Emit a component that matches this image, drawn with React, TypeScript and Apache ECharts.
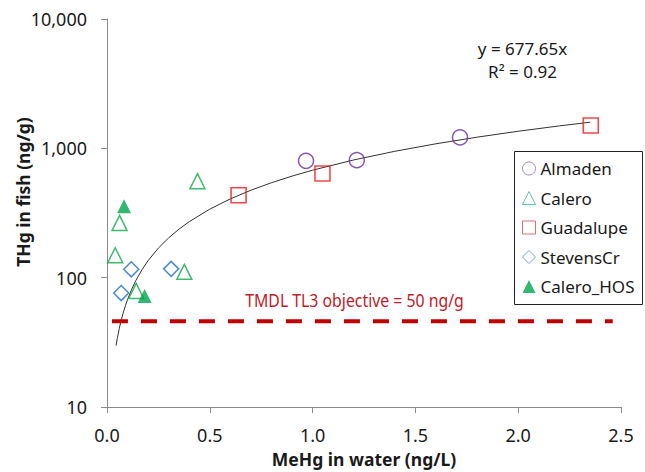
import React, { useEffect, useRef } from "react";
import * as echarts from "echarts";

// Data
const almaden: [number, number][] = [
  [0.968, 800],
  [1.215, 810],
  [1.717, 1214],
];
const calero: [number, number][] = [
  [0.44, 557],
  [0.061, 265],
  [0.04, 149],
  [0.376, 111],
  [0.142, 79],
];
const guadalupe: [number, number][] = [
  [0.64, 434],
  [1.048, 639],
  [2.353, 1503],
];
const stevensCr: [number, number][] = [
  [0.118, 116],
  [0.069, 76],
  [0.312, 117],
];
const caleroHOS: [number, number][] = [
  [0.083, 357],
  [0.183, 72],
];

const TREND_SLOPE = 677.65;
const trendX = [
  0.044, 0.05, 0.06, 0.07, 0.08, 0.09, 0.1, 0.12, 0.14, 0.17, 0.2, 0.25, 0.3,
  0.35, 0.4, 0.5, 0.6, 0.7, 0.8, 0.9, 1.0, 1.2, 1.4, 1.6, 1.8, 2.0, 2.2, 2.35,
];
const tmdlLine: [number, number][] = [
  [0.024, 46],
  [2.46, 46],
];

const xTicks = [0, 0.5, 1.0, 1.5, 2.0, 2.5];
const seriesNames = ["Almaden", "Calero", "Guadalupe", "StevensCr", "Calero_HOS"];

const FONT = "'Noto Sans', 'Open Sans', sans-serif";

export default function App() {
  const ref = useRef<HTMLDivElement>(null);

  useEffect(() => {
    if (!ref.current) return;
    const chart = echarts.init(ref.current, undefined, { renderer: "svg" });

    const axisColor = "#8c8c8c";
    const option: any = {
      animation: false,
      backgroundColor: "#ffffff",
      textStyle: { fontFamily: FONT },
      grid: {
        left: 107,
        right: 24,
        top: 19,
        bottom: 65,
        containLabel: false,
        outerBoundsMode: "none",
      },
      xAxis: {
        type: "value",
        min: xTicks[0],
        max: xTicks[xTicks.length - 1],
        interval: 0.5,
        name: "MeHg in water (ng/L)",
        nameLocation: "middle",
        nameGap: 43,
        nameTextStyle: { fontFamily: FONT, fontSize: 17.5, fontWeight: "bold", color: "#1a1a1a" },
        axisLine: { onZero: false, lineStyle: { color: axisColor, width: 1 } },
        axisTick: { show: true, length: 6, lineStyle: { color: axisColor } },
        axisLabel: {
          fontFamily: FONT,
          fontSize: 18,
          color: "#1a1a1a",
          margin: 19,
          formatter: (v: number) => v.toFixed(1),
        },
        splitLine: { show: false },
      },
      yAxis: {
        type: "log",
        logBase: 10,
        min: 10,
        max: 10000,
        axisLine: { show: true, lineStyle: { color: axisColor, width: 1 } },
        axisTick: { show: true, length: 6, lineStyle: { color: axisColor } },
        axisLabel: {
          fontFamily: FONT,
          fontSize: 18,
          color: "#1a1a1a",
          margin: 20,
          formatter: (v: number) => Math.round(v).toLocaleString("en-US"),
        },
        splitLine: { show: false },
        minorTick: { show: false },
      },
      legend: {
        orient: "vertical",
        left: 514,
        top: 160,
        padding: [0, 0, 0, 8],
        itemWidth: 13,
        itemHeight: 13,
        itemGap: 12.5,
        textStyle: { fontFamily: FONT, fontSize: 17, lineHeight: 17, color: "#1a1a1a" },
        data: [
          { name: "Almaden", icon: "circle", itemStyle: { color: "transparent", borderColor: "#8a72b8", borderWidth: 1 } },
          { name: "Calero", icon: "triangle", itemStyle: { color: "transparent", borderColor: "#3fbf8f", borderWidth: 1 } },
          { name: "Guadalupe", icon: "rect", itemStyle: { color: "transparent", borderColor: "#c9505a", borderWidth: 1 } },
          { name: "StevensCr", icon: "diamond", itemStyle: { color: "transparent", borderColor: "#5a8ccc", borderWidth: 1 } },
          { name: "Calero_HOS", icon: "triangle", itemStyle: { color: "#00a550", borderColor: "#00a550", borderWidth: 0 } },
        ],
      },
      graphic: [
        {
          type: "rect",
          shape: { x: 514.5, y: 151.5, width: 128, height: 153 },
          style: { fill: "none", stroke: "#222", lineWidth: 1 },
          silent: true,
          z: 10,
        },
        {
          type: "text",
          x: 22.5,
          y: 192,
          rotation: Math.PI / 2,
          style: {
            text: "THg in fish (ng/g)",
            font: `bold 17.5px ${FONT}`,
            fill: "#1a1a1a",
            align: "center",
            verticalAlign: "middle",
          },
        },
        {
          type: "text",
          x: 522.5,
          y: 48.5,
          style: {
            text: "y = 677.65x",
            font: `17px ${FONT}`,
            fill: "#1a1a1a",
            align: "center",
            verticalAlign: "middle",
          },
        },
        {
          type: "text",
          x: 522.5,
          y: 71.5,
          style: {
            text: "R² = 0.92",
            font: `17px ${FONT}`,
            fill: "#1a1a1a",
            align: "center",
            verticalAlign: "middle",
          },
        },
        {
          type: "text",
          x: 354.5,
          y: 300,
          scaleX: 0.88,
          originX: 0,
          originY: 0,
          style: {
            text: "TMDL TL3 objective = 50 ng/g",
            font: `18px ${FONT}`,
            fill: "#c0202a",
            align: "center",
            verticalAlign: "middle",
          },
        },
      ],
      series: [
        {
          name: "Trend",
          type: "line",
          data: trendX.map((x) => [x, TREND_SLOPE * x]),
          showSymbol: false,
          symbol: "none",
          lineStyle: { color: "#333", width: 1 },
          z: 1,
          silent: true,
        },
        {
          name: "TMDL",
          type: "line",
          data: tmdlLine,
          showSymbol: false,
          symbol: "none",
          lineStyle: { color: "#c00000", width: 4, type: [16, 13], cap: "butt" },
          z: 1,
          silent: true,
        },
        {
          name: seriesNames[0],
          type: "scatter",
          data: almaden,
          symbol: "circle",
          symbolSize: 15,
          itemStyle: { color: "transparent", borderColor: "#6a2fa0", borderWidth: 1.5 },
          z: 3,
        },
        {
          name: seriesNames[1],
          type: "scatter",
          data: calero,
          symbol: "triangle",
          symbolSize: 15,
          itemStyle: { color: "transparent", borderColor: "#11a84a", borderWidth: 1.5 },
          z: 3,
        },
        {
          name: seriesNames[2],
          type: "scatter",
          data: guadalupe,
          symbol: "rect",
          symbolSize: 15,
          itemStyle: { color: "transparent", borderColor: "#ee1c1c", borderWidth: 1.6 },
          z: 3,
        },
        {
          name: seriesNames[3],
          type: "scatter",
          data: stevensCr,
          symbol: "diamond",
          symbolSize: 15,
          itemStyle: { color: "transparent", borderColor: "#1f6fc0", borderWidth: 1.5 },
          z: 3,
        },
        {
          name: seriesNames[4],
          type: "scatter",
          data: caleroHOS,
          symbol: "triangle",
          symbolSize: 14,
          itemStyle: { color: "#00a550", borderWidth: 0 },
          z: 3,
        },
      ],
    };

    chart.setOption(option);
    return () => chart.dispose();
  }, []);

  return (
    <div
      ref={ref}
      style={{ position: "fixed", left: 0, top: 0, width: 645, height: 472, background: "#fff" }}
    />
  );
}
